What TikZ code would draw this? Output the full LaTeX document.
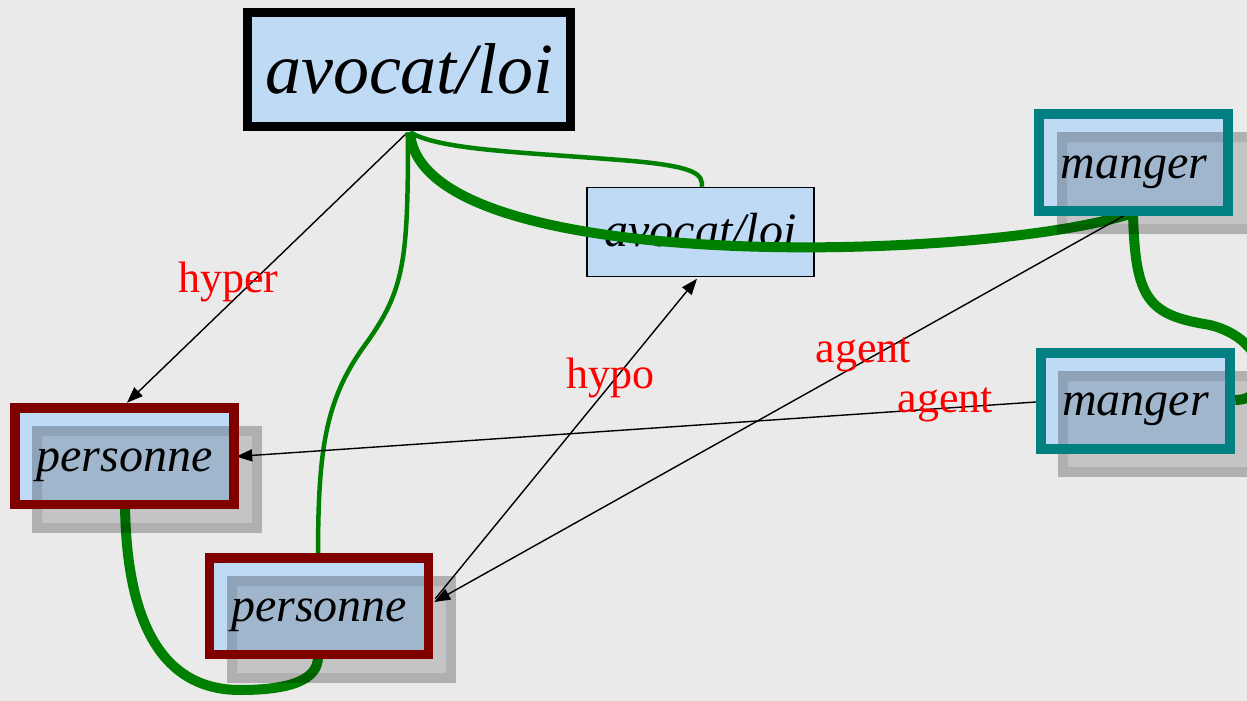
\documentclass[tikz,border=0pt]{standalone}
\usepackage{fontspec}
\setmainfont{Liberation Serif}
\usetikzlibrary{arrows.meta,calc}
\definecolor{bgc}{RGB}{234,234,234}
\definecolor{boxblue}{RGB}{191,218,245}
\definecolor{tealc}{RGB}{0,128,128}
\definecolor{maroonc}{RGB}{128,0,0}
\definecolor{greenc}{RGB}{0,128,0}
\newcommand\mydropshadow[4]{%
  \fill[black, opacity=0.16] (#1,#2) rectangle (#3,#4);
  \fill[black, opacity=0.1, even odd rule] (#1,#2) rectangle (#3,#4)
    ($(#1,#2)+(10,10)$) rectangle ($(#3,#4)+(-10,-10)$);
}
\begin{document}
\begin{tikzpicture}[x=1pt,y=-1pt,
  boxnode/.style={fill=boxblue, inner sep=0pt, text depth=0pt,
    font=\fontsize{48}{48}\selectfont\itshape},
  boxfill/.style={fill=boxblue, inner sep=0pt},
  boxtext/.style={inner sep=0pt, text depth=0pt, font=\fontsize{48}{48}\selectfont\itshape},
  arr/.style={line width=1.4pt, -{Triangle[length=16pt,width=12pt]}},
  greenthick/.style={greenc, line width=10pt},
  greenthin/.style={greenc, line width=4.5pt},
  lbl/.style={text=red, font=\fontsize{44}{44}\selectfont, inner sep=0pt, anchor=base},
]
\useasboundingbox (0,0) rectangle (1247,701);
\clip (0,0) rectangle (1247,701);
\fill[bgc] (0,0) rectangle (1247,701);

% nodes without shadow
\node[boxnode, draw=black, line width=8.5pt, minimum width=323pt, minimum height=114pt,
  text height=47.6pt, font=\fontsize{72}{72}\selectfont\itshape] (ta) at (409,69.5) {avocat/loi};
\node[boxnode, draw=black, line width=1.5pt, minimum width=227pt, minimum height=89pt,
  text height=29.4pt] (ma) at (700.5,232) {avocat/loi};

% fills of boxes with shadow
\node[boxfill, minimum width=189pt, minimum height=97pt] (mtbox) at (1133.7,162) {};
\node[boxfill, minimum width=189pt, minimum height=96pt] (mbbox) at (1135.5,401.3) {};
\node[boxfill, minimum width=219pt, minimum height=96.7pt] (plbox) at (124.5,456.3) {};
\node[boxfill, minimum width=219pt, minimum height=96.7pt] (pbbox) at (319,606.3) {};

% green connectors
\draw[greenthin] ($(ta.south)+(1,1.5)$) .. controls (440,150) and (520,152) .. (620,160)
  .. controls (700,166) and (702,175) .. ($(ma.north)+(1.5,0)$);
\draw[greenthin] ($(ta.south)+(-1,1.5)$) .. controls (408,260) and (405,290) .. (365,345)
  .. controls (325,400) and (318,450) .. ($(pbbox.north)+(-1,0)$);
\draw[greenthick] ($(ta.south)+(1,1.5)$) .. controls (420,280) and (1000,260) .. ($(mtbox.south)+(1.3,1.5)$);
\draw[greenthick] ($(mtbox.south)+(-0.7,1.5)$) .. controls (1135,300) and (1148,315) .. (1210,325)
  .. controls (1270,340) and (1275,400) .. ($(mbbox.east)+(5,-1.3)$);
\draw[greenthick] ($(plbox.south)+(0.5,0.5)$) .. controls (127,650) and (180,690) .. (240,690)
  .. controls (290,690) and (318,680) .. ($(pbbox.south)+(-1,2)$);

% black arrows
\draw[arr] ($(ta.south)+(-4,4)$) -- ($(plbox.north)+(2.5,-5)$);
\draw[arr] ($(mbbox.west)+(-5,0.7)$) -- ($(plbox.east)+(2,0.2)$);
\draw[arr] ($(mtbox.south)+(-3.5,1.5)$) -- ($(pbbox.east)+(5.5,-4.3)$);
\draw[arr] ($(pbbox.east)+(6.5,-7.5)$) -- ($(ma.south)+(-3.5,1.5)$);

% shadows
\mydropshadow{1057}{132}{1262}{234}
\mydropshadow{1058}{371}{1262}{477}
\mydropshadow{32}{426}{262}{533}
\mydropshadow{227}{576}{456}{683}

% borders and texts of shadowed nodes
\node[boxtext, draw=tealc, line width=10pt, minimum width=189pt, minimum height=97pt,
  text height=32.6pt] (mt) at (mtbox.center) {manger};
\node[boxtext, draw=tealc, line width=10pt, minimum width=189pt, minimum height=96pt,
  text height=27.4pt] (mb) at (mbbox.center) {manger};
\node[boxtext, draw=maroonc, line width=9.5pt, minimum width=219pt, minimum height=96.7pt,
  text height=30.8pt] (pl) at (plbox.center) {personne};
\node[boxtext, draw=maroonc, line width=9.5pt, minimum width=219pt, minimum height=96.7pt,
  text height=30.8pt] (pb) at (pbbox.center) {personne};

% labels
\node[lbl] (lhyper) at (228.5,292) {hyper};
\node[lbl] (lhypo) at (610,388) {hypo};
\node[lbl] (lagent1) at (863.5,362) {agent};
\node[lbl] (lagent2) at (945.5,412) {agent};
\end{tikzpicture}
\end{document}
